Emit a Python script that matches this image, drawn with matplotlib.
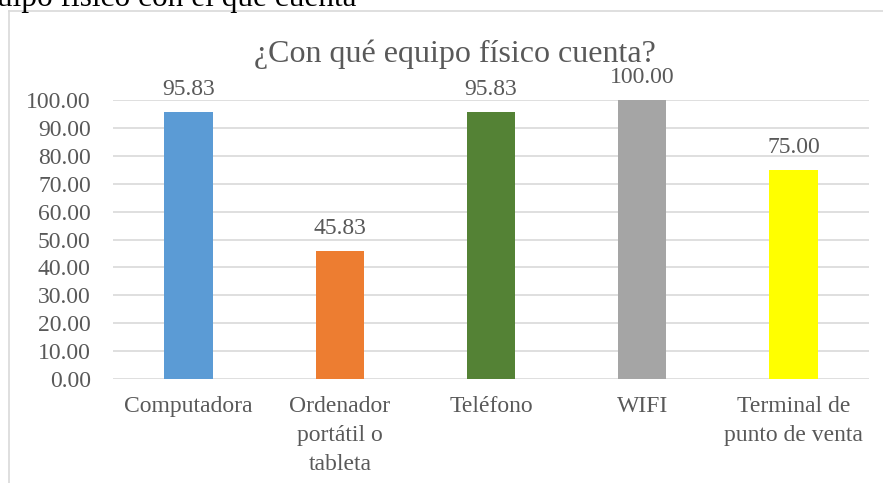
import matplotlib.pyplot as plt
import numpy as np

categorias = ["Computadora", "Ordenador\nportátil o\ntableta", "Teléfono", "WIFI",
              "Terminal de\npunto de venta"]
valores = [95.83, 45.83, 95.83, 100.00, 75.00]
colores = ["#5B9BD5", "#ED7D31", "#548235", "#A5A5A5", "#FFFF00"]
yticks = np.arange(0, 101, 10)

plt.rcParams['font.family'] = ['Liberation Serif', 'DejaVu Serif']
gris = "#595959"

fig = plt.figure(figsize=(8.83, 4.83), dpi=100)
W, H = 883, 483
ax = fig.add_axes([113 / W, 1 - 379 / H, (869 - 113) / W, (379 - 100) / H])

x = np.arange(len(categorias))
ax.bar(x, valores, width=0.32, color=colores, zorder=3)

for xi, v in zip(x, valores):
    ax.annotate("{:.2f}".format(v), (xi, v), xytext=(0, 12), textcoords='offset points',
                ha='center', va='baseline', fontsize=17, color=gris)

ax.set_xlim(-0.5, len(categorias) - 0.5)
ax.set_ylim(0, 100)
ax.set_yticks(yticks)
ax.set_yticklabels(["{:.2f}".format(t) for t in yticks])
ax.set_xticks(x)
ax.set_xticklabels(categorias, linespacing=1.5)
ax.tick_params(axis='both', length=0, labelsize=17, labelcolor=gris)
ax.tick_params(axis='y', pad=16)
ax.tick_params(axis='x', pad=12)
ax.grid(axis='y', color='#D9D9D9', linewidth=1.2, zorder=0)
for s in ax.spines.values():
    s.set_visible(False)

# marco del gráfico (recortado)
fig.add_artist(plt.Line2D([9 / W, 9 / W], [0, 1 - 11 / H], transform=fig.transFigure,
                          color='#D9D9D9', linewidth=1.2))
fig.add_artist(plt.Line2D([9 / W, 1], [1 - 11 / H, 1 - 11 / H], transform=fig.transFigure,
                          color='#D9D9D9', linewidth=1.2))

fig.text(455 / W, 1 - 62 / H, "¿Con qué equipo físico cuenta?", ha='center', va='baseline',
         fontsize=23, color=gris)
fig.text(-3 / W, 1 - 6 / H, "uipo físico con el que cuenta", ha='left', va='baseline',
         fontsize=22.5, color='black')

fig.savefig("out.png", dpi=100)
